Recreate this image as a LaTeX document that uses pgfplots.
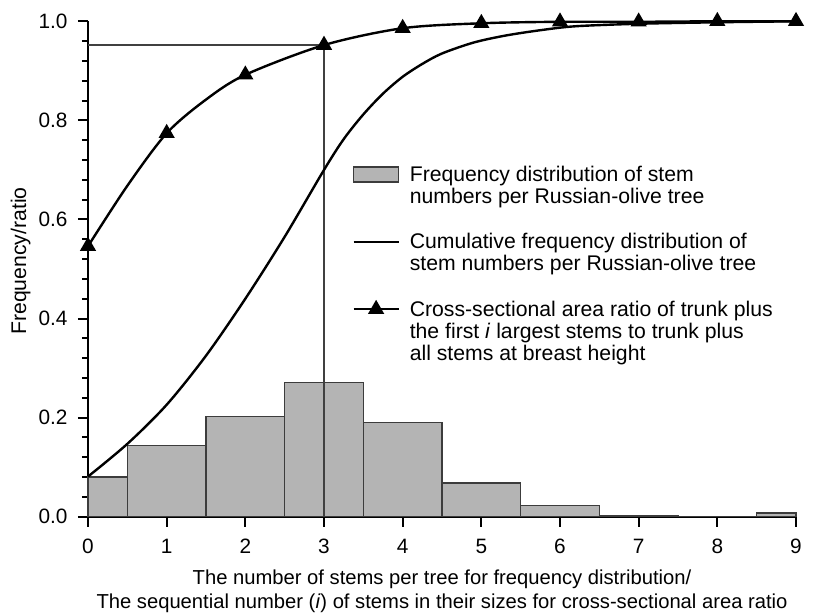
\documentclass[border=0pt]{standalone}
\usepackage{fontspec}
\setmainfont{Liberation Sans}
\usepackage{pgfplots}
\pgfplotsset{compat=1.18}
\definecolor{barfill}{RGB}{180,180,180}
\definecolor{bardraw}{RGB}{60,60,60}
\pgfplotsset{
  barlegend/.style={legend image code/.code={\draw[fill=barfill, draw=bardraw, line width=0.6pt] (0pt,-0.3pt) rectangle (22.5pt,7.2pt);}},
  linelegend/.style={legend image code/.code={\draw[##1] (0pt,3.6pt) -- (22.5pt,3.6pt);}},
  marklegend/.style={legend image code/.code={\draw[##1, mark indices={2}] plot coordinates {(0pt,3.6pt) (11.25pt,3.6pt) (22.5pt,3.6pt)};}},
}
\begin{document}
\begin{tikzpicture}
\begin{axis}[
  scale only axis, width=354pt, height=247.7pt,
  xmin=0, xmax=9, ymin=0, ymax=1,
  axis lines=left, axis line style={-, line width=1.2pt},
  clip=false,
  font=\fontsize{10.4}{11}\selectfont,
  xtick={0,1,2,3,4,5,6,7,8,9},
  ytick={0,0.2,0.4,0.6,0.8,1.0},
  minor y tick num=4,
  tick align=outside, major tick length=5pt, minor tick length=3pt,
  every tick/.style={black, line width=1pt},
  /pgf/number format/assume math mode=true,
  yticklabel style={/pgf/number format/fixed, /pgf/number format/fixed zerofill,
    /pgf/number format/precision=1, xshift=-1.7pt},
  xticklabel style={yshift=-2.5pt},
  every axis x label/.style={at={(axis description cs:0.5,0)}, anchor=north,
    yshift=-26.5pt, inner sep=0pt, align=center, font=\fontsize{10.1}{11.7}\selectfont},
  every axis y label/.style={at={(axis description cs:0,0.516)}, anchor=center,
    xshift=-33.7pt, rotate=90, font=\fontsize{10.6}{11}\selectfont},
  xlabel={The number of stems per tree for frequency distribution/\\The sequential number (\textit{i}) of stems in their sizes for cross-sectional area ratio},
  ylabel={Frequency/ratio},
  legend style={draw=none, fill=none, at={(axis description cs:0.3729,0.7087)},
    anchor=north west, inner sep=0pt, row sep=11.75pt, column sep=5pt,
    cells={anchor=base west},
    nodes={inner sep=0pt, text depth=, font=\fontsize{10.6}{11}\selectfont}},
]
% frequency distribution (bars centred on 0..9, first one cut at 0)
\addplot[ybar interval, fill=barfill, draw=bardraw, line width=0.6pt, barlegend]
  coordinates {(0,0.080) (0.5,0.143) (1.5,0.203) (2.5,0.271) (3.5,0.190) (4.5,0.068) (5.5,0.023) (6.5,0.002) (7.5,0.001) (8.5,0.0075) (9,0.0075)};
\addlegendentry{\begin{tabular}[t]{@{}l@{}}Frequency distribution of stem\\numbers per Russian-olive tree\end{tabular}}

% guide lines at i = 3
\addplot[black!75, line width=0.6pt, forget plot] coordinates {(0,0.952) (3,0.952) (3,0)};

% cumulative frequency
\addplot[black, line width=1.2pt, smooth, linelegend]
  coordinates {(0,0.081) (0.5,0.147) (1.0,0.226) (1.5,0.325) (2.0,0.440) (2.5,0.565)
  (3.0,0.700) (3.25,0.762) (3.5,0.812) (3.75,0.854) (4.0,0.888) (4.25,0.914) (4.5,0.935)
  (4.9,0.957) (5.3,0.971) (5.75,0.982) (6.2,0.990) (7.0,0.995) (8.0,0.998) (9.0,1.0)};
\addlegendentry{\begin{tabular}[t]{@{}l@{}}Cumulative frequency distribution of\\stem numbers per Russian-olive tree\end{tabular}}

% cross-sectional area ratio (marks only at integer i)
\addplot[black, line width=1.2pt, smooth, mark=triangle*, mark size=3.5pt, marklegend,
  mark indices={1,3,5,6,7,8,9,10,11,12}]
  coordinates {(0,0.546) (0.5,0.668) (1,0.774) (1.5,0.842) (2,0.892) (3,0.952) (4,0.986) (5,0.996) (6,0.999) (7,0.999) (8,1.0) (9,1.0)};
\addlegendentry{\begin{tabular}[t]{@{}l@{}}Cross-sectional area ratio of trunk plus\\the first \textit{i} largest stems to trunk plus\\all stems at breast height\end{tabular}}
\end{axis}
\pgfresetboundingbox
\path ([xshift=-44pt,yshift=-48.65pt]current axis.south west) rectangle ([xshift=10pt,yshift=10.65pt]current axis.north east);
\end{tikzpicture}
\end{document}
